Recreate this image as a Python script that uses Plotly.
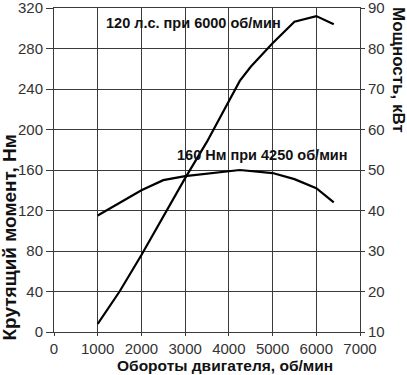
import plotly.graph_objects as go

rpm_torque = [1000, 2000, 2500, 3000, 4250, 5000, 5500, 6000, 6400]
torque_nm = [115, 140, 150, 154, 160, 157, 151, 142, 128]

rpm_power = [1000, 1500, 2000, 2500, 3000, 3500, 4000, 4250, 4500, 5000, 5500, 6000, 6400]
power_kw = [12, 20, 29, 38.5, 48, 57, 67, 72, 75.5, 81.3, 86.6, 88, 86]

x_ticks = [0, 1000, 2000, 3000, 4000, 5000, 6000, 7000]
y_ticks = [0, 40, 80, 120, 160, 200, 240, 280, 320]
y2_ticks = [10, 20, 30, 40, 50, 60, 70, 80, 90]

W, H = 407, 375
L, R, T, B = 54, 47, 8, 43
PW, PH = W - L - R, H - T - B


def px(x):
    return (x - L) / PW


def py(y):
    return (H - B - y) / PH


fig = go.Figure()
fig.add_trace(go.Scatter(x=rpm_torque, y=torque_nm, mode="lines",
                         line=dict(color="black", width=2.2), yaxis="y", showlegend=False))
fig.add_trace(go.Scatter(x=rpm_power, y=power_kw, mode="lines",
                         line=dict(color="black", width=2.2), yaxis="y2", showlegend=False))

tickfont = dict(family="Liberation Sans, Arial", size=15, color="#333333")


def tfont(size):
    return dict(family="Liberation Sans, Arial", size=size, color="#111111", weight="bold")


fig.update_layout(
    width=W, height=H,
    margin=dict(l=L, r=R, t=T, b=B, autoexpand=False),
    paper_bgcolor="white", plot_bgcolor="white",
    xaxis=dict(range=[0, 7000], tickvals=x_ticks, ticktext=[str(v) for v in x_ticks],
               showgrid=True, gridcolor="#3a3a3a", gridwidth=1,
               showline=True, linecolor="#3a3a3a", linewidth=1, mirror=True,
               ticks="outside", ticklen=3, tickcolor="#3a3a3a",
               tickfont=tickfont, zeroline=False, automargin=False,
               ticklabeloverflow="allow"),
    yaxis=dict(range=[0, 320], tickvals=y_ticks, ticktext=[str(v) for v in y_ticks],
               showgrid=True, gridcolor="#3a3a3a", gridwidth=1,
               showline=True, linecolor="#3a3a3a", linewidth=1,
               ticks="outside", ticklen=7, tickcolor="#3a3a3a",
               tickfont=tickfont, zeroline=False, automargin=False,
               ticklabeloverflow="allow"),
    yaxis2=dict(range=[10, 90], tickvals=y2_ticks, ticktext=[str(v) for v in y2_ticks],
                overlaying="y", side="right", showgrid=False,
                showline=True, linecolor="#3a3a3a", linewidth=1,
                ticks="outside", ticklen=4, tickcolor="#3a3a3a",
                tickfont=tickfont, zeroline=False, automargin=False,
                ticklabeloverflow="allow"),
)

fig.add_annotation(x=3200, y=305, xref="x", yref="y", showarrow=False,
                   text="120 л.с. при 6000 об/мин", font=tfont(14.5))
fig.add_annotation(x=4780, y=175, xref="x", yref="y", showarrow=False,
                   text="160 Нм при 4250 об/мин", font=tfont(14.5))

# axis titles
fig.add_annotation(x=px(224.5), xref="paper", y=py(365), yref="paper",
                   xanchor="center", yanchor="middle", showarrow=False,
                   text="Обороты двигателя, об/мин", font=tfont(15.5))
fig.add_annotation(x=px(8.5), xref="paper", y=py(238), yref="paper",
                   xanchor="center", yanchor="middle", showarrow=False, textangle=-90,
                   text="Крутящий момент, Нм", font=tfont(19))
fig.add_annotation(x=px(398), xref="paper", y=py(70), yref="paper",
                   xanchor="center", yanchor="middle", showarrow=False, textangle=90,
                   text="Мощность, кВт", font=tfont(17))

fig.write_html("out.html", config={"displayModeBar": False},
               post_script="document.body.style.margin='0';")
